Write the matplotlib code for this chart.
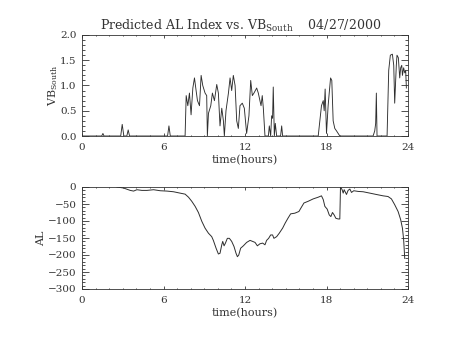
import matplotlib
matplotlib.use("Agg")
import matplotlib.pyplot as plt
from matplotlib.ticker import MultipleLocator

plt.rcParams['font.family'] = ['DejaVu Serif']
plt.rcParams['mathtext.fontset'] = 'dejavuserif'

# VB_South data (hours, value)
vb_hours = [0.0, 1.45, 1.54, 1.62, 2.85, 2.96, 3.08, 3.3, 3.4, 3.5, 6.3, 6.4, 6.5,
            7.59, 7.67, 7.79, 7.91, 8.03, 8.16, 8.28, 8.40, 8.50, 8.65, 8.77, 8.89,
            9.06, 9.18, 9.23, 9.31, 9.48, 9.60, 9.75, 9.92, 10.04, 10.16, 10.29,
            10.41, 10.48, 10.60, 10.78, 10.90, 11.02, 11.14, 11.27, 11.39, 11.51,
            11.63, 11.80, 11.95, 12.12, 12.29, 12.42, 12.54, 12.66, 12.86, 12.98,
            13.18, 13.27, 13.35, 13.47, 13.72, 13.79, 13.89, 13.96, 14.03, 14.08,
            14.16, 14.23, 14.33, 14.62, 14.70, 14.77,
            17.39, 17.51, 17.63, 17.76, 17.83, 17.90, 18.00, 18.12, 18.20, 18.30,
            18.39, 18.49, 18.61, 18.74, 18.86, 18.98,
            21.43, 21.55, 21.62, 21.67, 21.72,
            22.46, 22.58, 22.70, 22.85, 22.95, 23.02, 23.14, 23.19, 23.29, 23.39,
            23.46, 23.54, 23.59, 23.68, 23.76, 23.83, 23.88]
vb_values = [0.0, 0.0, 0.05, 0.0, 0.0, 0.23, 0.0, 0.0, 0.12, 0.0, 0.0, 0.2, 0.0,
             0.0, 0.80, 0.60, 0.85, 0.42, 0.95, 1.15, 0.90, 0.70, 0.60, 1.20, 1.00,
             0.85, 0.80, 0.0, 0.45, 0.60, 0.85, 0.70, 1.02, 0.85, 0.20, 0.55,
             0.30, 0.0, 0.50, 0.85, 1.15, 0.90, 1.20, 1.00, 0.30, 0.15,
             0.60, 0.65, 0.55, 0.05, 0.40, 1.10, 0.80, 0.85, 0.95, 0.85,
             0.60, 0.80, 0.55, 0.0, 0.0, 0.20, 0.0, 0.40, 0.35, 0.97,
             0.0, 0.25, 0.0, 0.0, 0.20, 0.0,
             0.0, 0.30, 0.60, 0.70, 0.50, 0.93, 0.05, 0.60, 0.85, 1.15,
             1.10, 0.30, 0.15, 0.10, 0.05, 0.0,
             0.0, 0.10, 0.25, 0.85, 0.0,
             0.0, 1.30, 1.60, 1.62, 1.40, 0.65, 1.40, 1.60, 1.55, 1.15,
             1.35, 1.40, 1.20, 1.35, 1.25, 1.30, 0.95]

# AL index data (hours, nT)
al_hours = [2.57, 3.06, 3.55, 3.80, 4.04, 4.41, 4.78, 5.27, 5.76, 6.25, 6.74, 7.22,
            7.59, 7.84, 8.08, 8.33, 8.57, 8.82, 9.06, 9.31, 9.55, 9.67, 9.87, 10.04,
            10.16, 10.29, 10.36, 10.46, 10.56, 10.70, 10.85, 11.02, 11.19, 11.34,
            11.44, 11.54, 11.68, 11.88, 12.12, 12.37, 12.56, 12.74, 12.91, 13.10,
            13.30, 13.47, 13.59, 13.74, 13.89, 14.03, 14.13, 14.33, 14.52, 14.77,
            14.96, 15.16, 15.36, 15.67, 15.97, 16.16, 16.34, 16.65, 17.02, 17.39,
            17.63, 17.76, 17.88, 18.05, 18.20, 18.32, 18.44, 18.56, 18.69, 18.86,
            18.98, 19.03, 19.15, 19.23, 19.30, 19.40, 19.47, 19.59, 19.72, 19.84,
            20.01, 20.33, 20.70, 21.19, 21.67, 22.17, 22.53, 22.78, 23.02, 23.27,
            23.46, 23.59, 23.68, 23.76]
al_values = [0, -3, -10, -12, -8, -10, -10, -8, -11, -12, -14, -18,
             -21, -30, -42, -57, -75, -101, -121, -136, -146, -157, -180, -197,
             -195, -170, -160, -173, -165, -151, -151, -160, -175, -195,
             -205, -200, -180, -173, -163, -157, -160, -163, -173, -167,
             -165, -170, -157, -151, -141, -141, -151, -146, -136, -121,
             -106, -92, -79, -77, -72, -59, -47, -42, -35, -30,
             -26, -37, -57, -65, -82, -87, -75, -82, -92, -94,
             -94, 0, -8, -18, -8, -16, -22, -10, -6, -16,
             -11, -13, -14, -18, -22, -26, -28, -35, -52, -72,
             -96, -121, -155, -210]

xticks = [0, 6, 12, 18, 24]
vb_ticks = [0.0, 0.5, 1.0, 1.5, 2.0]
vb_ticklabels = ['0.0', '0.5', '1.0', '1.5', '2.0']
al_ticks = [0, -50, -100, -150, -200, -250, -300]
al_ticklabels = ['0', '\u221250', '\u2212100', '\u2212150', '\u2212200', '\u2212250', '\u2212300']

W, H = 454, 341
fig = plt.figure(figsize=(W / 100, H / 100), dpi=100)

def px_axes(x0, y0, x1, y1):
    return fig.add_axes([x0 / W, 1 - y1 / H, (x1 - x0) / W, (y1 - y0) / H])

ax1 = px_axes(82, 35, 408, 136)
ax2 = px_axes(82, 187, 408, 289)

lc = '#2e2e2e'
tc = '#333333'
ax1.plot(vb_hours, vb_values, color=lc, lw=0.65)
ax2.plot(al_hours, al_values, color=lc, lw=0.7)

ax1.set_ylim(0, 2.0)
ax2.set_ylim(-300, 0)
ax1.set_yticks(vb_ticks)
ax1.set_yticklabels(vb_ticklabels)
ax1.yaxis.set_minor_locator(MultipleLocator(0.1))
ax2.set_yticks(al_ticks)
ax2.set_yticklabels(al_ticklabels)
ax2.yaxis.set_minor_locator(MultipleLocator(10))

for ax in (ax1, ax2):
    ax.set_xlim(0, 24)
    ax.set_xticks(xticks)
    ax.set_xticklabels([str(t) for t in xticks])
    ax.xaxis.set_minor_locator(MultipleLocator(1))
    ax.tick_params(axis='both', which='both', direction='in', top=True, right=True,
                   labelsize=7.5, colors=tc, width=0.6)
    ax.tick_params(axis='x', which='major', length=2.0, pad=5)
    ax.tick_params(axis='x', which='minor', length=1.0)
    ax.tick_params(axis='y', which='major', length=4.7, pad=4)
    ax.tick_params(axis='y', which='minor', length=2.3)
    for s in ax.spines.values():
        s.set_linewidth(0.6)
        s.set_color(tc)
    ax.set_xlabel('time(hours)', fontsize=8, labelpad=2, color=tc)

ax1.set_ylabel(r'VB$_{\rm South}$', fontsize=8, labelpad=0, color=tc)
ax2.set_ylabel('AL', fontsize=8, labelpad=1, color=tc)

fig.text(241 / W, 1 - 26 / H,
         r'Predicted AL Index vs. VB$_{\rm South}$    04/27/2000',
         ha='center', va='center', fontsize=9, color=tc)

fig.savefig('out.png', dpi=100)
